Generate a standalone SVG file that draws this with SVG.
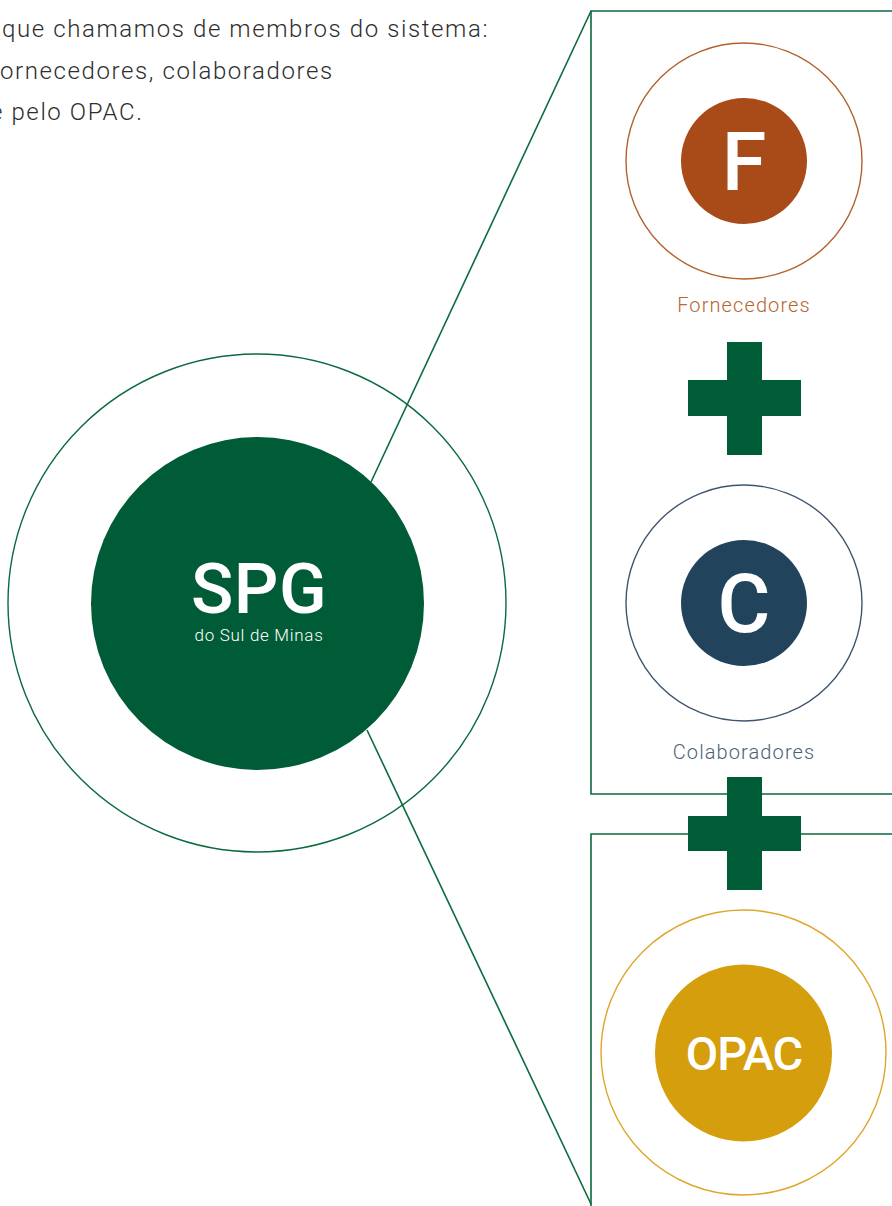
<svg xmlns="http://www.w3.org/2000/svg" width="892" height="1206" viewBox="0 0 892 1206">
<style>
.intro{font-family:Roboto,"Liberation Sans",sans-serif;font-weight:300;font-size:24px;letter-spacing:1.6px;fill:#2E2E2E}
.frame{fill:none;stroke:#0B6A3E;stroke-width:1.6}
.conn{fill:none;stroke:#0B6A3E;stroke-width:1.6}
.big{font-family:Roboto,"Liberation Sans",sans-serif;font-weight:500;fill:#ffffff;text-anchor:middle}
.lbl{font-family:Roboto,"Liberation Sans",sans-serif;font-weight:300;font-size:20px;letter-spacing:1.1px;text-anchor:middle}
.plus{fill:#005C36}
</style>
<rect width="892" height="1206" fill="#ffffff"/>
<g id="intro-text">
<text class="intro" x="2" y="37">que chamamos de membros do sistema:</text>
<text class="intro" x="0" y="79">ornecedores, colaboradores</text>
<text class="intro" x="-10" y="120">e pelo OPAC.</text>
</g>
<g id="frames">
<polyline class="frame" points="892,11 591,11 591,794 892,794"/>
<polyline class="frame" points="892,834 591,834 591,1206"/>
</g>
<g id="connectors">
<line class="conn" x1="371" y1="482" x2="591" y2="11"/>
<line class="conn" x1="367" y1="730" x2="591" y2="1204"/>
</g>
<g id="spg">
<circle cx="257" cy="603" r="249" fill="none" stroke="#0B6A3E" stroke-width="1.4"/>
<circle cx="257.5" cy="603.5" r="166.5" fill="#005C36"/>
<text class="big" x="259" y="613" font-size="70" letter-spacing="0.5">SPG</text>
<text x="259" y="641" font-family="Roboto,'Liberation Sans',sans-serif" font-weight="300" font-size="17" letter-spacing="0.7" fill="#ffffff" text-anchor="middle">do Sul de Minas</text>
</g>
<g id="fornecedores">
<circle cx="744" cy="161" r="118" fill="none" stroke="#B3612E" stroke-width="1.4"/>
<circle cx="744" cy="161" r="63" fill="#A84B19"/>
<text class="big" x="744" y="190" font-size="81">F</text>
<text class="lbl" x="744" y="312" fill="#B5652F">Fornecedores</text>
</g>
<g id="plus-1">
<rect class="plus" x="727" y="342" width="35" height="113"/>
<rect class="plus" x="688" y="380" width="113" height="36"/>
</g>
<g id="colaboradores">
<circle cx="744" cy="603" r="118" fill="none" stroke="#3E5570" stroke-width="1.4"/>
<circle cx="744" cy="603" r="63" fill="#21435C"/>
<text class="big" x="744" y="632" font-size="81">C</text>
<text class="lbl" x="744" y="759" fill="#4A5F78">Colaboradores</text>
</g>
<g id="plus-2">
<rect class="plus" x="727" y="777" width="35" height="113"/>
<rect class="plus" x="688" y="816" width="113" height="35"/>
</g>
<g id="opac">
<circle cx="743.5" cy="1052.5" r="142.5" fill="none" stroke="#E0A52A" stroke-width="1.4"/>
<circle cx="743.5" cy="1053" r="88.5" fill="#D49E0C"/>
<text class="big" x="744" y="1070" font-size="47" letter-spacing="-1">OPAC</text>
</g>
</svg>
